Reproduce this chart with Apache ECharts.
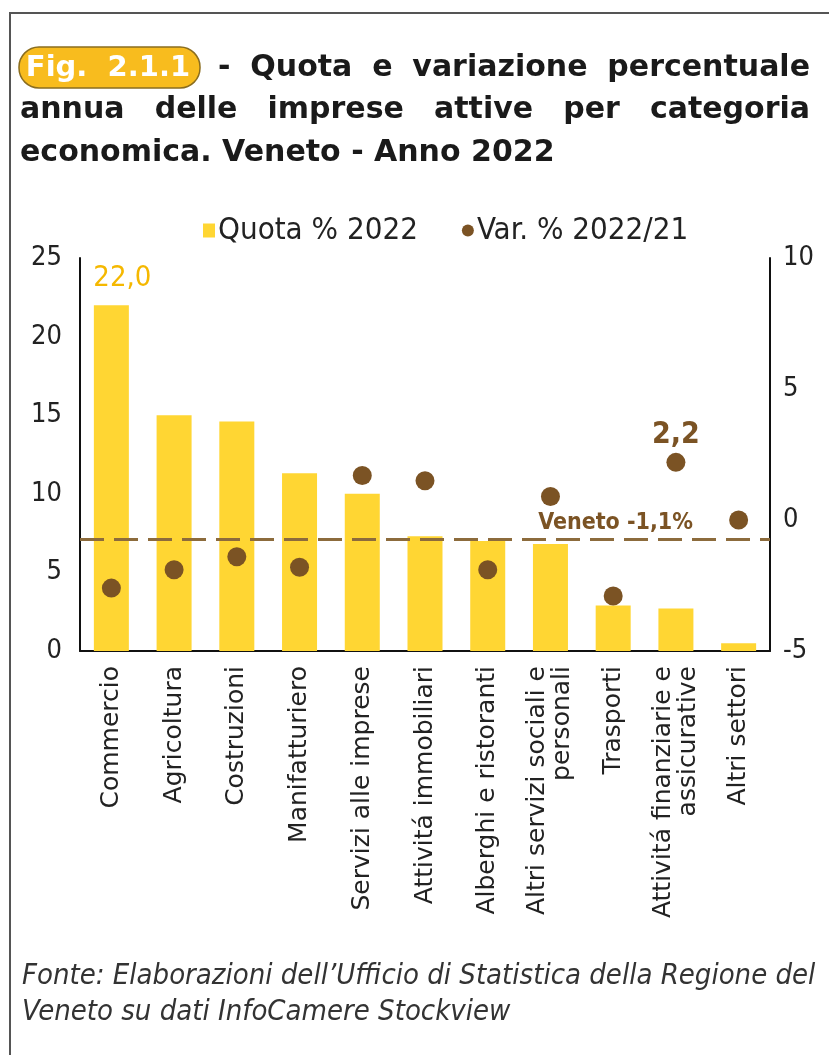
<!DOCTYPE html>
<html>
<head>
<meta charset="utf-8">
<script src="https://cdn.jsdelivr.net/npm/echarts@6/dist/echarts.min.js"></script>
<style>
html, body { margin: 0; padding: 0; background: #fff; }
#chart { width: 829px; height: 1055px; }
</style>
</head>
<body>
<div id="chart"></div>
<script>
// dati
var categorie = ['Commercio', 'Agricoltura', 'Costruzioni', 'Manifatturiero', 'Servizi alle imprese',
    'Attivitá immobiliari', 'Alberghi e ristoranti', 'Altri servizi sociali e\npersonali', 'Trasporti',
    'Attivitá finanziarie e\nassicurative', 'Altri settori'];
var quota2022 = [22.0, 15.0, 14.6, 11.3, 10.0, 7.3, 7.0, 6.8, 2.9, 2.7, 0.5];
var var2022 = [-2.6, -1.9, -1.4, -1.8, 1.7, 1.5, -1.9, 0.9, -2.9, 2.2, 0.0];
var venetoTesto = 'Veneto -1,1%';
var livelloVeneto = -0.75;   // dove la linea e' disegnata nella figura

var titoloRiga1 = ['-', 'Quota', 'e', 'variazione', 'percentuale'];
var titoloRiga2 = ['annua', 'delle', 'imprese', 'attive', 'per', 'categoria'];
var titoloRiga3 = 'economica. Veneto - Anno 2022';
var fonte = ["Fonte: Elaborazioni dell\u2019Ufficio di Statistica della Regione del", 'Veneto su dati InfoCamere Stockview'];

var GIALLO = '#FFD633';
var MARRONE = '#7B5324';
var fontTitolo = 'bold 30px "DejaVu Sans"';
var narrow = '"DejaVu Sans Condensed", sans-serif';

var virgola = function (v) { return v.toFixed(1).replace('.', ','); };

// parole giustificate tra x0 e x1
var ctx = document.createElement('canvas').getContext('2d');
ctx.font = fontTitolo;
function giustifica(parole, x0, x1, y) {
    var larg = parole.map(function (p) { return ctx.measureText(p).width; });
    var tot = larg.reduce(function (a, b) { return a + b; }, 0);
    var gap = (x1 - x0 - tot) / (parole.length - 1);
    var x = x0;
    return parole.map(function (p, i) {
        var el = {
            type: 'text', x: x, y: y,
            style: { text: p, font: fontTitolo, fill: '#1a1a1a', textVerticalAlign: 'middle' }
        };
        x += larg[i] + gap;
        return el;
    });
}

var grafica = [
    { type: 'rect', shape: { x: 10, y: 13, width: 840, height: 1060 }, style: { fill: null, stroke: '#555', lineWidth: 2 } },
    { type: 'rect', shape: { x: 19, y: 47, width: 181, height: 41, r: 20 }, style: { fill: '#F8BC1E', stroke: '#8a6d1f', lineWidth: 1.5 } },
    { type: 'text', x: 108, y: 68, style: { text: 'Fig.  2.1.1', font: 'bold 29px "DejaVu Sans"', fill: '#fff', textAlign: 'center', textVerticalAlign: 'middle' } },
    { type: 'text', x: 20, y: 153, style: { text: titoloRiga3, font: fontTitolo, fill: '#1a1a1a', textVerticalAlign: 'middle' } },
    { type: 'text', x: 22, y: 976, style: { text: fonte[0], font: 'italic 29px ' + narrow, fill: '#333', textVerticalAlign: 'middle' } },
    { type: 'text', x: 22, y: 1012, style: { text: fonte[1], font: 'italic 29px ' + narrow, fill: '#333', textVerticalAlign: 'middle' } }
].concat(giustifica(titoloRiga1, 218, 810, 68), giustifica(titoloRiga2, 20, 810, 110));

var chart = echarts.init(document.getElementById('chart'));
chart.setOption({
    animation: false,
    graphic: grafica,
    grid: { left: 80, right: 59, top: 258, bottom: 404 },
    legend: {
        left: 198, top: 210,
        itemWidth: 12, itemHeight: 14, itemGap: 44,
        textStyle: { fontSize: 31, color: '#222', fontFamily: narrow, padding: [0, 0, 0, -2] },
        data: [{ name: 'Quota % 2022', icon: 'rect' }, { name: 'Var. % 2022/21', icon: 'circle' }]
    },
    xAxis: {
        type: 'category',
        data: categorie,
        axisLine: { onZero: false, lineStyle: { color: '#111', width: 2 } },
        axisTick: { show: false },
        axisLabel: { interval: 0, rotate: 90, margin: 15, fontSize: 25, color: '#222', fontFamily: 'DejaVu Sans', lineHeight: 25 }
    },
    yAxis: [
        {
            type: 'value', min: 0, max: 25, interval: 5,
            axisLine: { show: true, lineStyle: { color: '#111', width: 2 } },
            splitLine: { show: false },
            axisLabel: { margin: 18, fontSize: 27, color: '#222', fontFamily: narrow }
        },
        {
            type: 'value', min: -5, max: 10, interval: 5, position: 'right',
            axisLine: { show: true, lineStyle: { color: '#111', width: 2 } },
            splitLine: { show: false },
            axisLabel: { margin: 13, fontSize: 27, color: '#222', fontFamily: narrow }
        }
    ],
    series: [
        {
            name: 'Quota % 2022',
            type: 'bar',
            yAxisIndex: 0,
            barWidth: 35,
            itemStyle: { color: GIALLO },
            data: quota2022.map(function (v, i) {
                return i === 0 ? { value: v, label: { show: true, position: 'top', distance: 12, offset: [11, 0], formatter: virgola(v), color: '#F5B800', fontSize: 29, fontFamily: narrow } } : v;
            })
        },
        {
            name: 'Var. % 2022/21',
            type: 'scatter',
            yAxisIndex: 1,
            symbolSize: 19,
            z: 5,
            itemStyle: { color: MARRONE, opacity: 1 },
            data: var2022.map(function (v, i) {
                return i === 9 ? { value: v, label: { show: true, position: 'top', distance: 3, formatter: virgola(v), color: MARRONE, fontSize: 30, fontWeight: 'bold', fontFamily: narrow } } : v;
            }),
            markLine: {
                silent: true,
                symbol: 'none',
                lineStyle: { type: [24, 10], color: '#8C6B3C', width: 3 },
                label: { show: true, position: 'insideEndTop', formatter: venetoTesto, color: MARRONE, fontSize: 23, fontWeight: 'bold', fontFamily: narrow, padding: [0, 72, 0, 0] },
                data: [{ yAxis: livelloVeneto }]
            }
        }
    ]
});
</script>
</body>
</html>
